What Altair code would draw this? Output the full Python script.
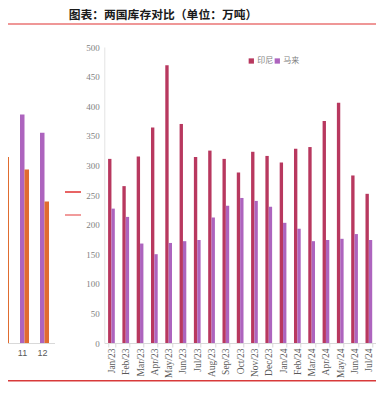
import altair as alt
import pandas as pd

TITLE = "图表：两国库存对比（单位：万吨）"

months = ["Jan/23", "Feb/23", "Mar/23", "Apr/23", "May/23", "Jun/23", "Jul/23",
          "Aug/23", "Sep/23", "Oct/23", "Nov/23", "Dec/23", "Jan/24", "Feb/24",
          "Mar/24", "Apr/24", "May/24", "Jun/24", "Jul/24"]
indonesia = [311, 265, 315, 364, 469, 370, 314, 325, 311, 288, 323, 316, 305, 328,
             331, 375, 406, 283, 252]
malaysia = [227, 213, 168, 150, 169, 172, 174, 212, 232, 245, 240, 230, 203, 193,
            172, 174, 176, 184, 174]
series = ["印尼", "马来"]
series_colors = ["#b8385f", "#ad64be"]

left_months = ["10", "11", "12"]
left_a = [428, 386, 355]
left_b = [314, 293, 239]
left_series = ["a", "b"]
left_colors = ["#ad64be", "#e06c30"]

y_ticks = list(range(0, 501, 50))

# layout (pixels) -- svg sized to fit the 384x394 window inside the 8px body margin
SW, SH = 368, 374
PL, PT = 96.3, 39
W, H = SW - PL, 296
PR = 0
PB = SH - PT - H

main_df = pd.DataFrame({
    "month": months * 2,
    "series": [series[0]] * len(months) + [series[1]] * len(months),
    "value": indonesia + malaysia,
})
left_df = pd.DataFrame({
    "m": left_months * 2,
    "s": [left_series[0]] * 3 + [left_series[1]] * 3,
    "v": left_a + left_b,
})

y_scale = alt.Scale(domain=[0, 500])

main = alt.Chart(main_df).mark_bar().encode(
    x=alt.X("month:N", sort=months, title=None,
            scale=alt.Scale(paddingInner=0.53, paddingOuter=0.265),
            axis=alt.Axis(orient="bottom", labelAngle=-90, labelFont="Liberation Serif",
                          labelFontSize=9.5, labelColor="#595959", tickBand="extent",
                          tickSize=4, tickColor="#d9d9d9", domainColor="#d9d9d9",
                          labelPadding=1, grid=False)),
    xOffset=alt.XOffset("series:N", sort=series),
    y=alt.Y("value:Q", scale=y_scale, title=None,
            axis=alt.Axis(orient="left", values=y_ticks, ticks=False, grid=False,
                          labelFont="Liberation Serif", labelFontSize=9,
                          labelColor="#7f7f7f", domainColor="#e3e3e3", labelPadding=5)),
    color=alt.Color("series:N", sort=series,
                    scale=alt.Scale(domain=series, range=series_colors),
                    legend=alt.Legend(title=None, orient="none", legendX=143, legendY=10,
                                      direction="horizontal", symbolType="square",
                                      symbolSize=28, labelFont="Noto Sans CJK SC",
                                      labelFontSize=8, labelColor="#7f7f7f",
                                      columnPadding=0, labelOffset=2, padding=0,
                                      symbolStrokeWidth=0)),
)

left = alt.Chart(left_df).mark_bar().encode(
    x=alt.X("m:N", sort=left_months, title=None,
            scale=alt.Scale(domain=left_months, range=[-109.8, -49.8],
                            paddingInner=0.55, paddingOuter=0.275),
            axis=alt.Axis(orient="bottom", labelAngle=0, labelFont="Liberation Sans",
                          labelFontSize=9, labelColor="#595959", ticks=False,
                          domainColor="#d9d9d9", labelPadding=5, labelOffset=-2,
                          grid=False)),
    xOffset=alt.XOffset("s:N", sort=left_series),
    y=alt.Y("v:Q", scale=y_scale, axis=None),
    color=alt.Color("s:N", scale=alt.Scale(domain=left_series, range=left_colors),
                    legend=None),
)

one = pd.DataFrame({"t": [TITLE]})

title = alt.Chart(one).mark_text(
    font="Noto Sans CJK SC", fontSize=11.8, fontWeight="bold", color="#1a1a1a",
    align="center", baseline="middle"
).encode(text="t:N", x=alt.value(163 - 8 - PL), y=alt.value(15 - 8 - PT))

top_line = alt.Chart(one).mark_rule(color="#e03030", strokeWidth=1.2).encode(
    x=alt.value(-PL), x2=alt.value(SW - PL), y=alt.value(24 - 8 - PT))
bottom_line = alt.Chart(one).mark_rule(color="#d83a3a", strokeWidth=1.5).encode(
    x=alt.value(-PL), x2=alt.value(SW - PL), y=alt.value(SH - 1.2 - PT))
leg1 = alt.Chart(one).mark_rule(color="#e03030", strokeWidth=1.5).encode(
    x=alt.value(65 - 8 - PL), x2=alt.value(81 - 8 - PL), y=alt.value(192 - 8 - PT))
leg2 = alt.Chart(one).mark_rule(color="#ec7a7a", strokeWidth=1.5).encode(
    x=alt.value(65 - 8 - PL), x2=alt.value(81 - 8 - PL), y=alt.value(215 - 8 - PT))

chart = alt.layer(main, left, title, top_line, bottom_line, leg1, leg2).resolve_scale(
    x="independent", xOffset="independent", color="independent"
).resolve_axis(x="independent", y="independent").properties(
    width=W, height=H,
    padding={"left": PL, "top": PT, "right": PR, "bottom": PB},
    autosize=alt.AutoSizeParams(type="none"),
    background="white",
).configure_view(stroke=None)

chart.save("out.html", embed_options={"renderer": "svg", "actions": False})
